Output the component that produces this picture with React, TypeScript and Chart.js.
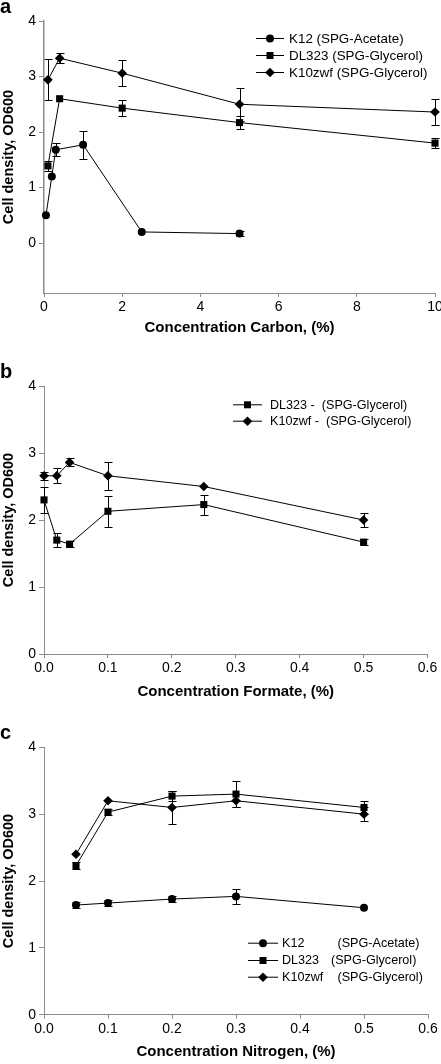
import React, { useEffect, useRef } from 'react';
import { Chart, registerables } from 'chart.js';

Chart.register(...registerables);

const FONT = "'Liberation Sans', Arial, Helvetica, sans-serif";
const AXIS_GREY = '#8c8c8c';

// ---------- shared axis data ----------
const odTicks = [0, 1, 2, 3, 4];
const odTickLabels = ['0', '1', '2', '3', '4'];
const yTitle = 'Cell density, OD600';

// ---------- panel a : carbon ----------
const carbonXTicks = [0, 2, 4, 6, 8, 10];
const carbonXTickLabels = ['0', '2', '4', '6', '8', '10'];
const carbonK12X = [0.05, 0.2, 0.3, 1, 2.5, 5];
const carbonK12Y = [0.5, 1.2, 1.68, 1.77, 0.2, 0.17];
const carbonK12Err = [0, 0, 0.12, 0.25, 0, 0.05];
const carbonDL323X = [0.1, 0.4, 2, 5, 10];
const carbonDL323Y = [1.39, 2.6, 2.43, 2.17, 1.8];
const carbonDL323Err = [0.09, 0, 0.15, 0.12, 0.09];
const carbonK10X = [0.1, 0.4, 2, 5, 10];
const carbonK10Y = [2.94, 3.33, 3.06, 2.5, 2.36];
const carbonK10Err = [0.37, 0.09, 0.23, 0.3, 0.24];
const carbonLegendNames = ['K12 (SPG-Acetate)', 'DL323 (SPG-Glycerol)', 'K10zwf (SPG-Glycerol)'];
const carbonLegendMedia = ['', '', ''];

// ---------- panel b : formate ----------
const formateXTicks = [0, 0.1, 0.2, 0.3, 0.4, 0.5, 0.6];
const formateXTickLabels = ['0.0', '0.1', '0.2', '0.3', '0.4', '0.5', '0.6'];
const formateX = [0, 0.02, 0.04, 0.1, 0.25, 0.5];
const formateDL323Y = [2.3, 1.7, 1.64, 2.13, 2.23, 1.67];
const formateDL323Err = [0.2, 0.1, 0.05, 0.23, 0.15, 0.05];
const formateK10Y = [2.66, 2.66, 2.86, 2.66, 2.5, 2.0];
const formateK10Err = [0.06, 0.11, 0.06, 0.21, 0, 0.1];
const formateLegendNames = ['DL323 -  (SPG-Glycerol)', 'K10zwf -  (SPG-Glycerol)'];
const formateLegendMedia = ['', ''];

// ---------- panel c : nitrogen ----------
const nitrogenXTicks = [0, 0.1, 0.2, 0.3, 0.4, 0.5, 0.6];
const nitrogenXTickLabels = ['0.0', '0.1', '0.2', '0.3', '0.4', '0.5', '0.6'];
const nitrogenX = [0.05, 0.1, 0.2, 0.3, 0.5];
const nitrogenK12Y = [1.64, 1.67, 1.73, 1.77, 1.6];
const nitrogenK12Err = [0.05, 0.05, 0.05, 0.11, 0];
const nitrogenDL323Y = [2.23, 3.03, 3.27, 3.3, 3.1];
const nitrogenDL323Err = [0.05, 0.05, 0.08, 0.2, 0.1];
const nitrogenK10Y = [2.4, 3.2, 3.1, 3.2, 3.0];
const nitrogenK10Err = [0, 0, 0.25, 0.1, 0.1];
const nitrogenLegendNames = ['K12', 'DL323', 'K10zwf'];
const nitrogenLegendMedia = ['(SPG-Acetate)', '(SPG-Glycerol)', '(SPG-Glycerol)'];

type Marker = 'circle' | 'rect' | 'rectRot';
type Series = { xs: number[]; ys: number[]; err: number[]; marker: Marker };

type PanelCfg = {
  top: number;
  height: number;
  label: string;
  labelBaseline: number;
  chartTop: number;
  xAxisHeight: number;
  rightPad: number;
  yMin: number;
  xMin: number;
  xMax: number;
  xTicks: number[];
  xTickLabels: string[];
  xTitle: string;
  titlePadBottom: number;
  yBorderWidth: number;
  series: Series[];
  legendNames: string[];
  legendMedia: string[];
  legendFont: number;
  legendX0: number;
  legendX1: number;
  legendTextX: number;
  legendMediaX: number[];
  legendRows: number[];
};

const pointRadius: Record<Marker, number> = { circle: 4, rect: 5, rectRot: 4.8 };

function drawMarker(ctx: CanvasRenderingContext2D, m: Marker, x: number, y: number) {
  ctx.beginPath();
  if (m === 'circle') {
    ctx.arc(x, y, 4, 0, Math.PI * 2);
  } else if (m === 'rect') {
    ctx.rect(x - 3.5, y - 3.5, 7, 7);
  } else {
    ctx.moveTo(x, y - 4.8);
    ctx.lineTo(x + 4.8, y);
    ctx.lineTo(x, y + 4.8);
    ctx.lineTo(x - 4.8, y);
    ctx.closePath();
  }
  ctx.fill();
}

const panels: PanelCfg[] = [
  {
    top: 0,
    height: 340,
    label: 'a',
    labelBaseline: 13,
    chartTop: 21,
    xAxisHeight: 47,
    rightPad: 6,
    yMin: -0.9,
    xMin: 0,
    xMax: 10,
    xTicks: carbonXTicks,
    xTickLabels: carbonXTickLabels,
    xTitle: 'Concentration Carbon, (%)',
    titlePadBottom: 3,
    yBorderWidth: 1.5,
    series: [
      { xs: carbonK12X, ys: carbonK12Y, err: carbonK12Err, marker: 'circle' },
      { xs: carbonDL323X, ys: carbonDL323Y, err: carbonDL323Err, marker: 'rect' },
      { xs: carbonK10X, ys: carbonK10Y, err: carbonK10Err, marker: 'rectRot' },
    ],
    legendNames: carbonLegendNames,
    legendMedia: carbonLegendMedia,
    legendFont: 13.4,
    legendX0: 256,
    legendX1: 284,
    legendTextX: 289,
    legendMediaX: [0, 0, 0],
    legendRows: [38, 55, 72],
  },
  {
    top: 340,
    height: 368,
    label: 'b',
    labelBaseline: 38,
    chartTop: 46,
    xAxisHeight: 54,
    rightPad: 13.5,
    yMin: 0,
    xMin: 0,
    xMax: 0.6,
    xTicks: formateXTicks,
    xTickLabels: formateXTickLabels,
    xTitle: 'Concentration Formate, (%)',
    titlePadBottom: 7,
    yBorderWidth: 1,
    series: [
      { xs: formateX, ys: formateDL323Y, err: formateDL323Err, marker: 'rect' },
      { xs: formateX, ys: formateK10Y, err: formateK10Err, marker: 'rectRot' },
    ],
    legendNames: formateLegendNames,
    legendMedia: formateLegendMedia,
    legendFont: 12.6,
    legendX0: 233,
    legendX1: 262,
    legendTextX: 270,
    legendMediaX: [0, 0],
    legendRows: [64.3, 80.7],
  },
  {
    top: 708,
    height: 356,
    label: 'c',
    labelBaseline: 31,
    chartTop: 39.3,
    xAxisHeight: 49.3,
    rightPad: 13,
    yMin: 0,
    xMin: 0,
    xMax: 0.6,
    xTicks: nitrogenXTicks,
    xTickLabels: nitrogenXTickLabels,
    xTitle: 'Concentration Nitrogen, (%)',
    titlePadBottom: 3,
    yBorderWidth: 1,
    series: [
      { xs: nitrogenX, ys: nitrogenK12Y, err: nitrogenK12Err, marker: 'circle' },
      { xs: nitrogenX, ys: nitrogenDL323Y, err: nitrogenDL323Err, marker: 'rect' },
      { xs: nitrogenX, ys: nitrogenK10Y, err: nitrogenK10Err, marker: 'rectRot' },
    ],
    legendNames: nitrogenLegendNames,
    legendMedia: nitrogenLegendMedia,
    legendFont: 12.6,
    legendX0: 248,
    legendX1: 278,
    legendTextX: 282,
    legendMediaX: [337.5, 331, 337.5],
    legendRows: [234.7, 252, 268.7],
  },
];

function Panel({ cfg }: { cfg: PanelCfg }) {
  const ref = useRef<HTMLCanvasElement>(null);

  useEffect(() => {
    const canvas = ref.current;
    if (!canvas) return;

    const overlay = {
      id: 'overlay' + cfg.label,
      afterDatasetsDraw(chart: any) {
        const ctx: CanvasRenderingContext2D = chart.ctx;
        const xs = chart.scales.x;
        const ys = chart.scales.y;
        ctx.save();
        // error bars
        ctx.strokeStyle = '#000';
        ctx.lineWidth = 1;
        cfg.series.forEach((s) => {
          s.xs.forEach((x, i) => {
            const e = s.err[i];
            if (!e) return;
            const px = Math.round(xs.getPixelForValue(x)) + 0.5;
            const y1 = Math.round(ys.getPixelForValue(s.ys[i] - e)) + 0.5;
            const y2 = Math.round(ys.getPixelForValue(s.ys[i] + e)) + 0.5;
            ctx.beginPath();
            ctx.moveTo(px, y1);
            ctx.lineTo(px, y2);
            ctx.moveTo(px - 4, y1);
            ctx.lineTo(px + 4, y1);
            ctx.moveTo(px - 4, y2);
            ctx.lineTo(px + 4, y2);
            ctx.stroke();
          });
        });
        // legend
        ctx.font = `${cfg.legendFont}px ${FONT}`;
        ctx.textBaseline = 'middle';
        ctx.textAlign = 'left';
        ctx.fillStyle = '#000';
        cfg.legendRows.forEach((ry, i) => {
          const s = cfg.series[i];
          ctx.beginPath();
          ctx.moveTo(cfg.legendX0, ry + 0.5);
          ctx.lineTo(cfg.legendX1, ry + 0.5);
          ctx.stroke();
          drawMarker(ctx, s.marker, (cfg.legendX0 + cfg.legendX1) / 2, ry + 0.5);
          ctx.fillText(cfg.legendNames[i], cfg.legendTextX, ry + 1);
          if (cfg.legendMedia[i]) ctx.fillText(cfg.legendMedia[i], cfg.legendMediaX[i], ry + 1);
        });
        // panel letter
        ctx.font = `bold 20px ${FONT}`;
        ctx.textBaseline = 'alphabetic';
        ctx.fillText(cfg.label, 0, cfg.labelBaseline);
        ctx.restore();
      },
    };

    const chart = new Chart(canvas, {
      type: 'line',
      data: {
        datasets: cfg.series.map((s) => ({
          data: s.xs.map((x, i) => ({ x, y: s.ys[i] })),
          borderColor: '#000',
          backgroundColor: '#000',
          borderWidth: 1,
          pointStyle: s.marker,
          pointRadius: pointRadius[s.marker],
          pointHoverRadius: pointRadius[s.marker],
          pointBackgroundColor: '#000',
          pointBorderWidth: 0,
          tension: 0,
          fill: false,
          clip: false as any,
        })),
      },
      options: {
        responsive: false,
        animation: false,
        events: [],
        layout: { padding: { top: cfg.chartTop, right: cfg.rightPad, left: 0, bottom: 0 } },
        plugins: { legend: { display: false }, tooltip: { enabled: false } },
        scales: {
          x: {
            type: 'linear',
            min: cfg.xMin,
            max: cfg.xMax,
            afterBuildTicks: (s: any) => {
              s.ticks = cfg.xTicks.map((v) => ({ value: v }));
            },
            afterFit: (s: any) => {
              s.height = cfg.xAxisHeight;
              s.paddingRight = 0;
              s.paddingLeft = 0;
            },
            ticks: {
              autoSkip: false,
              maxRotation: 0,
              padding: 2,
              color: '#000',
              font: { family: FONT, size: 14 },
              callback: (_v: any, i: number) => cfg.xTickLabels[i],
            },
            grid: { drawOnChartArea: false, drawTicks: true, tickLength: 4, color: AXIS_GREY },
            border: { display: true, color: AXIS_GREY, width: 1 },
            title: {
              display: true,
              text: cfg.xTitle,
              color: '#000',
              font: { family: FONT, size: 15, weight: 'bold' },
              padding: { top: 0, bottom: cfg.titlePadBottom },
            },
          },
          y: {
            type: 'linear',
            min: cfg.yMin,
            max: 4,
            afterBuildTicks: (s: any) => {
              s.ticks = odTicks.map((v) => ({ value: v }));
            },
            afterFit: (s: any) => {
              s.width = 44;
            },
            ticks: {
              autoSkip: false,
              padding: 3,
              color: '#000',
              font: { family: FONT, size: 14 },
              callback: (_v: any, i: number) => odTickLabels[i],
            },
            grid: { drawOnChartArea: false, drawTicks: true, tickLength: 5, color: AXIS_GREY },
            border: { display: true, color: AXIS_GREY, width: cfg.yBorderWidth },
            title: {
              display: true,
              text: yTitle,
              color: '#000',
              font: { family: FONT, size: 14.5, weight: 'bold' },
              padding: { top: 0, bottom: 0 },
            },
          },
        },
      } as any,
      plugins: [overlay],
    });

    return () => chart.destroy();
  }, [cfg]);

  return (
    <canvas
      ref={ref}
      width={441}
      height={cfg.height}
      style={{ position: 'absolute', left: 0, top: cfg.top, width: 441, height: cfg.height, display: 'block' }}
    />
  );
}

export default function App() {
  return (
    <div style={{ position: 'absolute', left: 0, top: 0, width: 441, height: 1064, background: '#fff', overflow: 'hidden' }}>
      {panels.map((p) => (
        <Panel key={p.label} cfg={p} />
      ))}
    </div>
  );
}
